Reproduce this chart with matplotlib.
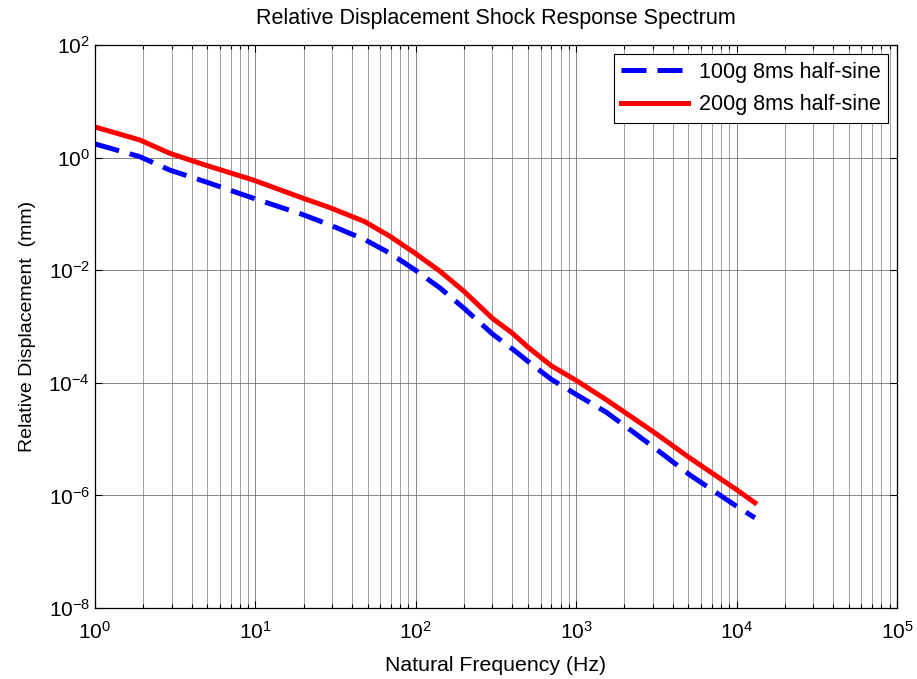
import matplotlib
matplotlib.use("Agg")
import matplotlib.pyplot as plt
import matplotlib.ticker as mticker
import numpy as np

plt.rcParams['font.family'] = ['Liberation Sans', 'DejaVu Sans']
plt.rcParams['mathtext.default'] = 'regular'

# values (Hz, mm)
freq_100g = [1.0, 1.9, 2.93, 4.85, 9.7, 19.8, 29, 48, 69, 99, 142, 200, 300, 400, 500, 700,
             1000, 1540, 3000, 5120, 10000, 13000]
disp_100g = [1.75, 1.04, 0.60, 0.375, 0.19, 0.097, 0.064, 0.035, 0.020, 0.0101, 0.0048,
             0.0021, 7.4e-4, 4.0e-4, 2.4e-4, 1.15e-4, 6.2e-5, 3.0e-5, 7.4e-6, 2.3e-6,
             6.4e-7, 4.0e-7]
freq_200g = [1.0, 1.9, 2.93, 4.85, 9.7, 19.8, 29, 48, 69, 99, 142, 200, 300, 400, 500, 700,
             1000, 1540, 3000, 5120, 10000, 13000]
disp_200g = [3.5, 2.06, 1.19, 0.74, 0.40, 0.19, 0.13, 0.073, 0.040, 0.020, 0.0095,
             0.0042, 0.0014, 7.6e-4, 4.3e-4, 2.0e-4, 1.1e-4, 5.0e-5, 1.37e-5, 4.6e-6,
             1.26e-6, 7.4e-7]

fig = plt.figure(figsize=(9.17, 6.79), dpi=100)
ax = fig.add_axes([0.1036, 0.1046, 0.8746, 0.8291])

ax.loglog(freq_100g, disp_100g, color='#0000ff', lw=3.6, ls=(0, (5, 2.2)),
          label='100g 8ms half-sine')
ax.loglog(freq_200g, disp_200g, color='#ff0000', lw=3.6, label='200g 8ms half-sine')

ax.set_xlim(1, 1e5)
ax.set_ylim(1e-8, 1e2)
ax.yaxis.set_major_locator(mticker.FixedLocator([1e-8, 1e-6, 1e-4, 1e-2, 1e0, 1e2]))
ax.yaxis.set_minor_locator(mticker.NullLocator())
ax.xaxis.set_major_locator(mticker.LogLocator(base=10, numticks=10))
ax.xaxis.set_minor_locator(mticker.LogLocator(base=10, subs=np.arange(2, 10), numticks=20))

ax.grid(True, which='major', axis='both', color='0.45', lw=0.6)
ax.grid(True, which='minor', axis='x', color='0.55', lw=0.6)
ax.set_axisbelow(True)

ax.tick_params(which='both', direction='in', top=True, right=True, labelsize=15,
               width=0.8, colors='black')
ax.tick_params(which='major', length=5)
ax.tick_params(which='minor', length=3)
ax.tick_params(axis='x', pad=9)
for s in ax.spines.values():
    s.set_linewidth(0.9)

ax.set_title('Relative Displacement Shock Response Spectrum', fontsize=15.5, pad=15)
ax.set_xlabel('Natural Frequency (Hz)', fontsize=15.3, labelpad=10)
ax.set_ylabel('Relative Displacement  (mm)', fontsize=14, labelpad=9)

leg = ax.legend(loc='upper right', fontsize=15.5, fancybox=False, edgecolor='black',
                framealpha=1, handlelength=3.1, borderaxespad=0.0, labelspacing=0.55,
                borderpad=0.35, handletextpad=0.5,
                bbox_to_anchor=(0.989, 0.984))
leg.get_frame().set_linewidth(0.8)

fig.savefig('out.png', dpi=100)
